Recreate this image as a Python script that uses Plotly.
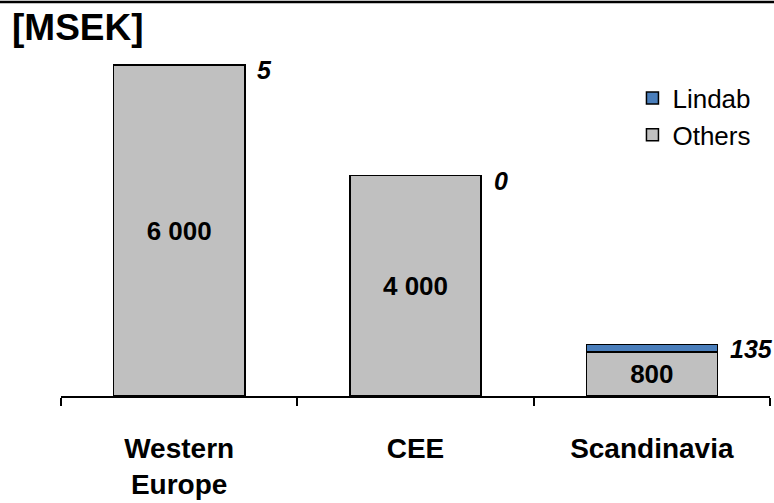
import plotly.graph_objects as go

categories = ["Western<br>Europe", "CEE", "Scandinavia"]
others = [6000, 4000, 800]
lindab = [5, 0, 135]
others_labels = ["6 000", "4 000", "800"]
lindab_labels = ["5", "0", "135"]

FONT = "Liberation Sans, Arial, sans-serif"

fig = go.Figure()
fig.add_trace(go.Bar(
    name="Others", x=categories, y=others,
    marker=dict(color="#C0C0C0", line=dict(color="black", width=1.5)),
    text=[f"<b>{t}</b>" for t in others_labels],
    textposition="inside", insidetextanchor="middle",
    textfont=dict(size=26, color="black", family=FONT),
    constraintext="none",
))
fig.add_trace(go.Bar(
    name="Lindab", x=categories, y=lindab,
    marker=dict(color="#4A7EBB", line=dict(color="black", width=1.5)),
    textposition="none",
))

for c, o, l, t in zip(categories, others, lindab, lindab_labels):
    fig.add_annotation(
        x=c, y=o + l, xref="x", yref="y",
        text=f"<b><i>{t}</i></b>", showarrow=False,
        xanchor="left", yanchor="middle", xshift=76, yshift=-5,
        font=dict(size=25, color="black", family=FONT),
    )

fig.add_annotation(
    x=-0.072, y=1.008, xref="paper", yref="paper",
    text="<b>[MSEK]</b>", showarrow=False,
    xanchor="left", yanchor="middle",
    font=dict(size=37, color="black", family=FONT),
)

fig.add_shape(type="line", xref="paper", yref="paper",
              x0=-61 / 709, x1=713 / 709, y0=1.0765, y1=1.0765,
              line=dict(color="black", width=2.5))

fig.update_layout(
    width=774, height=503,
    margin=dict(l=61, r=4, t=30, b=107),
    barmode="stack", bargap=0.445,
    plot_bgcolor="white", paper_bgcolor="white",
    font=dict(family=FONT, color="black"),
    legend=dict(x=0.806, y=0.878, xanchor="left", yanchor="top",
                traceorder="reversed", font=dict(size=26, family=FONT),
                bgcolor="rgba(0,0,0,0)"),
    xaxis=dict(showline=True, linecolor="black", linewidth=2,
               ticks="outside", ticklen=8, tickwidth=2, tickcolor="black",
               tickson="boundaries", range=[-0.5, 2.5],
               tickfont=dict(size=28, family=FONT, color="black", weight="bold"),
               ticklabelstandoff=26, showgrid=False),
    yaxis=dict(visible=False, range=[0, 6640], showgrid=False),
)

fig.write_html("out.html", config={"displayModeBar": False},
               post_script="document.body.style.margin='0';document.body.style.overflow='hidden';")
